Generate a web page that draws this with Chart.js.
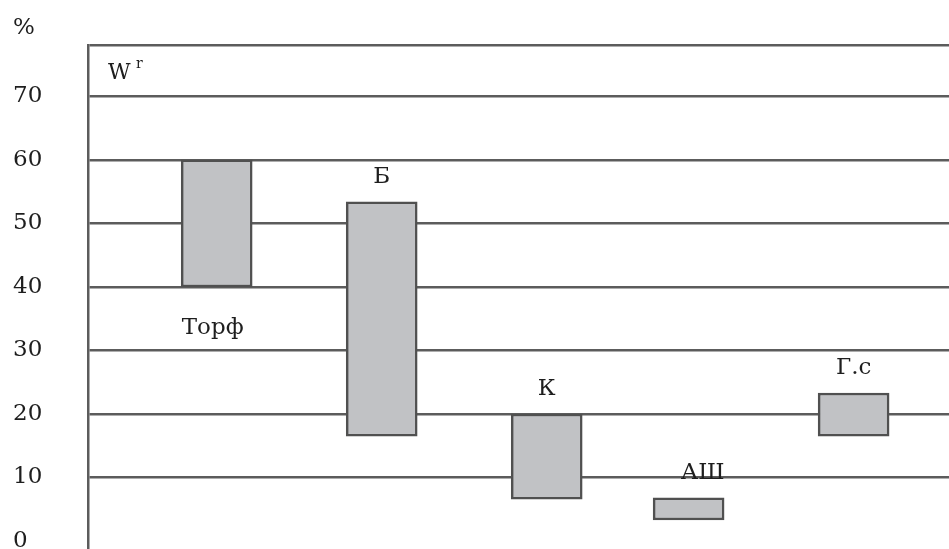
<!DOCTYPE html>
<html>
<head>
<meta charset="utf-8">
<script src="https://cdn.jsdelivr.net/npm/chart.js@4"></script>
<style>
  html, body { margin: 0; padding: 0; background: #fff; }
  #wrap { width: 949px; height: 549px; position: relative; }
</style>
</head>
<body>
<div id="wrap"><canvas id="chart"></canvas></div>
<script>
// fuel types and moisture range (W, %)
const fuels = ['Торф', 'Б', 'К', 'АШ', 'Г.с'];
const fuelPos = [0.78, 1.78, 2.78, 3.64, 4.64];   // position along the row
const moistLow = [40, 16.5, 6.6, 3.3, 16.5];
const moistHigh = [60, 53.4, 20, 6.8, 23.3];
const yTicks = [0, 10, 20, 30, 40, 50, 60, 70];

const FONT = 'DejaVu Serif';
const GRID = '#5c5c5c';
const Y_MIN = -1.26, Y_MAX = 78.1;

// bar labels + "%" and "W" captions
const labelPlugin = {
  id: 'fuelLabels',
  afterDatasetsDraw(chart) {
    const ctx = chart.ctx;
    const x = chart.scales.x, y = chart.scales.y;
    ctx.save();
    ctx.fillStyle = '#1e1e1e';
    ctx.font = '23px "' + FONT + '"';
    ctx.textAlign = 'center';
    ctx.textBaseline = 'middle';
    fuels.forEach((name, i) => {
      const px = x.getPixelForValue(fuelPos[i]);
      if (i === 0) {
        ctx.fillText(name, px - 4, y.getPixelForValue(moistLow[i]) + 41);
      } else {
        ctx.fillText(name, px + (name === 'АШ' ? 14 : 0), y.getPixelForValue(moistHigh[i]) - 25);
      }
    });
    // axis unit
    ctx.textAlign = 'left';
    ctx.fillText('%', 13, 28);
    // W^r caption inside the plot
    ctx.font = '22px "' + FONT + '"';
    ctx.fillText('W', 108, 73);
    ctx.font = '14px "' + FONT + '"';
    ctx.fillText('r', 136, 64);
    ctx.restore();
  }
};

new Chart(document.getElementById('chart'), {
  type: 'bar',
  data: {
    datasets: [{
      data: fuels.map((f, i) => ({ x: fuelPos[i], y: [moistLow[i], moistHigh[i]] })),
      backgroundColor: '#c1c2c5',
      borderColor: '#505050',
      borderWidth: 2.5,
      borderSkipped: false,
      barThickness: 71
    }]
  },
  options: {
    responsive: true,
    maintainAspectRatio: false,
    animation: false,
    layout: { padding: { top: 45, left: 13, right: 0, bottom: 0 } },
    plugins: { legend: { display: false }, tooltip: { enabled: false } },
    scales: {
      x: {
        type: 'linear',
        display: false,
        offset: false,
        min: 0,
        max: 5.218
      },
      y: {
        min: Y_MIN,
        max: Y_MAX,
        afterBuildTicks(scale) {
          scale.ticks = yTicks.concat([Y_MAX]).map(v => ({ value: v }));
        },
        afterFit(scale) {
          scale.width = 75;
          scale.paddingTop = 0;
          scale.paddingBottom = 0;
        },
        border: { display: true, color: GRID, width: 2.5 },
        grid: {
          drawTicks: false,
          lineWidth: 2.5,
          color: c => (c.tick && c.tick.value === 0) ? 'rgba(0,0,0,0)' : GRID
        },
        ticks: {
          crossAlign: 'far',
          padding: 0,
          color: '#1e1e1e',
          font: { family: FONT, size: 23 },
          callback: v => (yTicks.includes(v) ? String(v) : '')
        }
      }
    }
  },
  plugins: [labelPlugin]
});
</script>
</body>
</html>
